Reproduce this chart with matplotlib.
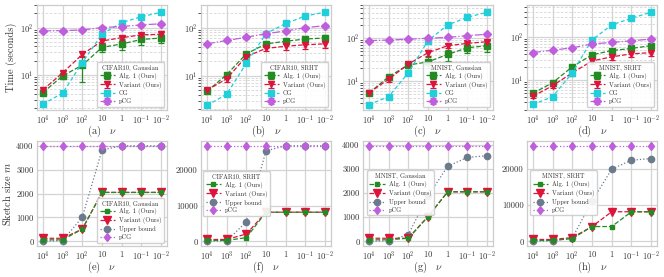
import matplotlib
matplotlib.use("Agg")
import matplotlib.pyplot as plt
from matplotlib.ticker import NullFormatter, LogLocator, FixedLocator

plt.rcParams.update({
    "font.family": "serif",
    "font.serif": ["cmr10"],
    "mathtext.fontset": "cm",
    "axes.formatter.use_mathtext": True,
    "axes.unicode_minus": False,
    "text.color": "#333333",
    "axes.labelcolor": "#333333",
    "xtick.color": "#333333",
    "ytick.color": "#333333",
})

# ---------------- data ----------------
nu = [1e4, 1e3, 1e2, 10, 1, 0.1, 0.01]
nu_labels = [r"$10^{4}$", r"$10^{3}$", r"$10^{2}$", r"$10$", r"$1$", r"$10^{-1}$", r"$10^{-2}$"]

titles = ["CIFAR10, Gaussian", "CIFAR10, SRHT", "MNIST, Gaussian", "MNIST, SRHT"]
captions_top = ["(a)", "(b)", "(c)", "(d)"]
captions_bot = ["(e)", "(f)", "(g)", "(h)"]

# Time (seconds)
a_alg = [4.2, 9.5, 16, 38, 45, 56, 60]
a_alg_err = [0.4, 1.2, 9, 8, 12, 13, 13]
a_var = [4.8, 11, 27, 52, 61, 70, 72]
a_var_err = [0.3, 0.8, 3, 5, 6, 8, 9]
a_cg = [2.4, 4.1, 18, 73, 127, 170, 210]
a_cg_err = [0.1, 0.2, 1.5, 6, 12, 15, 20]
a_pcg = [85, 86, 89, 100, 105, 114, 120]
a_pcg_err = [5, 5, 5, 6, 6, 7, 8]

b_alg = [4.7, 10.5, 28.5, 46, 52, 58, 61]
b_alg_err = [0.4, 1.0, 3, 5, 6, 7, 8]
b_var = [5.0, 8.6, 25, 37, 41, 44, 46]
b_var_err = [0.4, 1.2, 3, 5, 7, 8, 8]
b_cg = [2.4, 4.1, 18, 75, 122, 175, 210]
b_cg_err = [0.1, 0.2, 1.5, 6, 12, 15, 20]
b_pcg = [46, 54, 63, 75, 85, 100, 110]
b_pcg_err = [3, 4, 4, 5, 6, 7, 8]

c_alg = [5.2, 12.6, 23.7, 28, 42, 60, 67]
c_alg_err = [0.4, 1.5, 3, 8, 12, 14, 18]
c_var = [5.3, 11, 25, 46, 67, 76, 83]
c_var_err = [0.3, 1.5, 3, 8, 8, 8, 10]
c_cg = [2.8, 4.3, 15.6, 88, 205, 310, 405]
c_cg_err = [0.1, 0.2, 1.5, 6, 15, 20, 30]
c_pcg = [88, 91, 95, 100, 105, 115, 124]
c_pcg_err = [5, 5, 5, 6, 6, 7, 8]

d_alg = [4.9, 8.7, 20.5, 39, 49, 55, 64]
d_alg_err = [0.4, 0.8, 2, 4, 5, 6, 7]
d_var = [4.2, 7.4, 14.8, 28, 35, 41, 44]
d_var_err = [0.4, 0.8, 2, 4, 5, 6, 7]
d_cg = [2.7, 4.1, 14.8, 87, 195, 280, 385]
d_cg_err = [0.1, 0.2, 1.5, 6, 15, 20, 30]
d_pcg = [44, 50, 57, 70, 76, 83, 91]
d_pcg_err = [3, 4, 4, 5, 6, 7, 8]

time_ylims = [(1.8, 300), (1.93, 296), (2.1, 600), (2.0, 570)]

# Sketch size m
e_alg = [64, 64, 512, 2048, 2048, 2048, 2048]
e_var = [128, 128, 512, 2048, 2048, 2048, 2048]
e_ub = [5, 30, 1010, 3820, 4000, 4000, 4000]
e_pcg = [4000, 4000, 4000, 4000, 4000, 4000, 4000]

f_alg = [256, 256, 1024, 8192, 8192, 8192, 8192]
f_var = [512, 512, 2048, 8192, 8192, 8192, 8192]
f_ub = [20, 100, 5470, 25470, 26900, 26900, 26900]
f_pcg = [26900, 26900, 26900, 26900, 26900, 26900, 26900]

g_alg = [64, 64, 128, 1024, 2048, 2048, 2048]
g_var = [128, 128, 128, 1024, 2048, 2048, 2048]
g_ub = [5, 20, 280, 1875, 3100, 3470, 3540]
g_pcg = [3950, 3950, 3950, 3950, 3950, 3950, 3950]

h_alg = [256, 256, 740, 4096, 4096, 8192, 8192]
h_var = [512, 512, 1024, 4096, 8192, 8192, 8192]
h_ub = [20, 80, 930, 11100, 20000, 22500, 22960]
h_pcg = [26500, 26500, 26500, 26500, 26500, 26500, 26500]

sketch_yticks = [[0, 1000, 2000, 3000, 4000], [0, 10000, 20000],
                 [0, 1000, 2000, 3000, 4000], [0, 10000, 20000]]

top_data = [
    (a_alg, a_alg_err, a_var, a_var_err, a_cg, a_cg_err, a_pcg, a_pcg_err),
    (b_alg, b_alg_err, b_var, b_var_err, b_cg, b_cg_err, b_pcg, b_pcg_err),
    (c_alg, c_alg_err, c_var, c_var_err, c_cg, c_cg_err, c_pcg, c_pcg_err),
    (d_alg, d_alg_err, d_var, d_var_err, d_cg, d_cg_err, d_pcg, d_pcg_err),
]
bot_data = [
    (e_alg, e_var, e_ub, e_pcg),
    (f_alg, f_var, f_ub, f_pcg),
    (g_alg, g_var, g_ub, g_pcg),
    (h_alg, h_var, h_ub, h_pcg),
]

# ---------------- style ----------------
GREEN = "#228B22"
RED = "#DC143C"
CYAN = "#1FCFDA"
PURPLE = "#BF5FDD"
SLATE = "#6B7B8C"
GRID = "#d4d4d4"

W, H = 664, 277
fig = plt.figure(figsize=(W / 100, H / 100), dpi=100)

lefts = [37, 201, 363, 527]
aw = 130
top_rows = (5, 110)
bot_rows = (141, 246)


def make_ax(left, rows):
    t, b = rows
    return fig.add_axes([left / W, 1 - b / H, aw / W, (b - t) / H])


def style_ax(ax):
    ax.set_facecolor("white")
    for s in ax.spines.values():
        s.set_color("#cccccc")
        s.set_linewidth(0.9)
    ax.tick_params(length=0, labelsize=6.2, pad=2.5)
    ax.set_xscale("log")
    ax.set_xlim(10 ** 4.3, 10 ** -2.3)
    ax.xaxis.set_major_locator(FixedLocator(nu))
    ax.xaxis.set_minor_locator(FixedLocator([]))
    ax.set_xticks(nu)
    ax.set_xticklabels(nu_labels)
    ax.grid(True, which="major", color=GRID, linewidth=0.9)
    ax.set_axisbelow(True)


def caption(ax, text):
    ax.set_xlabel(text + r"$\quad\nu$", fontsize=7.5)
    ax.xaxis.set_label_coords(0.5, -0.135)


leg_kw = dict(fontsize=4.6, title_fontsize=4.6, frameon=True, fancybox=True,
              framealpha=0.9, edgecolor="#cccccc", handlelength=2.4,
              labelspacing=0.3, borderpad=0.4, handletextpad=0.6)

for i in range(4):
    ax = make_ax(lefts[i], top_rows)
    style_ax(ax)
    alg, alg_e, var, var_e, cg, cg_e, pcg, pcg_e = top_data[i]
    ax.set_yscale("log")
    ek = dict(capsize=2.5, elinewidth=0.9, capthick=0.9, lw=0.9, ms=4.5)
    ax.errorbar(nu, alg, yerr=alg_e, color=GREEN, marker="s", ls="--",
                label="Alg. 1 (Ours)", **ek)
    ax.errorbar(nu, var, yerr=var_e, color=RED, marker="v", ls="--",
                label="Variant (Ours)", **ek)
    ax.errorbar(nu, cg, yerr=cg_e, color=CYAN, marker="s", ls=(0, (3, 2)),
                label="CG", **ek)
    ax.errorbar(nu, pcg, yerr=pcg_e, color=PURPLE, marker="D", ls="-.",
                label="pCG", ms=3.8, capsize=2.5, elinewidth=0.9, capthick=0.9, lw=0.9)
    ax.set_ylim(*time_ylims[i])
    ax.yaxis.set_major_locator(LogLocator(base=10))
    ax.yaxis.set_minor_locator(LogLocator(base=10, subs=range(2, 10)))
    ax.yaxis.set_minor_formatter(NullFormatter())
    ax.grid(True, which="minor", axis="y", color=GRID, linewidth=0.6, ls=(0, (3, 2)))
    caption(ax, captions_top[i])
    if i == 0:
        ax.set_ylabel("Time (seconds)", fontsize=7.5, labelpad=2)
    ax.legend(loc="lower right", title=titles[i], **leg_kw)

bot_leg = [dict(loc="lower right"),
           dict(loc="upper left", bbox_to_anchor=(0.015, 0.715), borderaxespad=0),
           dict(loc="upper left", bbox_to_anchor=(0.03, 0.72), borderaxespad=0),
           dict(loc="upper left", bbox_to_anchor=(0.023, 0.72), borderaxespad=0)]

for i in range(4):
    ax = make_ax(lefts[i], bot_rows)
    style_ax(ax)
    alg, var, ub, pcg = bot_data[i]
    ax.plot(nu, alg, color=GREEN, marker="s", ls="--", lw=0.9, ms=3.2,
            label="Alg. 1 (Ours)", zorder=4)
    ax.plot(nu, var, color=RED, marker="v", ls="--", lw=0.9, ms=5.5,
            label="Variant (Ours)", zorder=3)
    ax.plot(nu, ub, color=SLATE, marker="o", ls=":", lw=0.9, ms=4.5,
            label="Upper bound", zorder=2)
    ax.plot(nu, pcg, color=PURPLE, marker="d", ls=":", lw=0.9, ms=4.5,
            label="pCG", zorder=5)
    ax.set_yticks(sketch_yticks[i])
    ax.set_yticklabels([str(v) for v in sketch_yticks[i]])
    caption(ax, captions_bot[i])
    if i == 0:
        ax.set_ylabel(r"Sketch size $m$", fontsize=7.5, labelpad=2)
    ax.legend(title=titles[i], **leg_kw, **bot_leg[i])

fig.savefig("out.png", dpi=100, facecolor="white")
